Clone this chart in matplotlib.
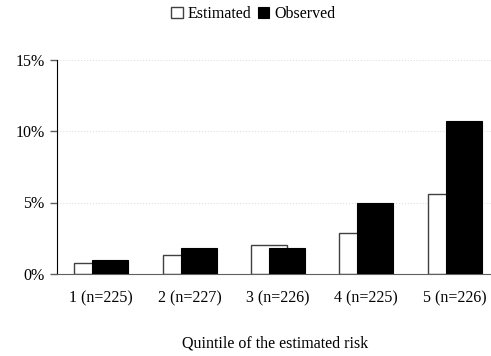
import matplotlib.pyplot as plt
import numpy as np
from matplotlib.ticker import FuncFormatter

categories = ['1 (n=225)', '2 (n=227)', '3 (n=226)', '4 (n=225)', '5 (n=226)']
estimated = [0.78, 1.34, 2.0, 2.9, 5.6]
observed = [0.95, 1.85, 1.85, 4.95, 10.7]

plt.rcParams['font.family'] = ['Liberation Serif', 'DejaVu Serif']
plt.rcParams['font.size'] = 11.5

fig = plt.figure(figsize=(4.91, 3.56), dpi=100)
ax = fig.add_axes([57 / 491, 82 / 356, 434 / 491, 214.5 / 356])

x = np.arange(len(categories))
w = 0.407
off = 0.102

ax.bar(x - off, estimated, w, color='white', edgecolor='#404040', linewidth=1.0,
       label='Estimated', zorder=2)
ax.bar(x + off, observed, w, color='black', edgecolor='black', linewidth=0.8,
       label='Observed', zorder=3)

ax.set_xlim(-0.5, 4.41)
ax.set_ylim(0, 15)
ax.set_yticks([0, 5, 10, 15])
ax.yaxis.set_major_formatter(FuncFormatter(lambda v, p: '%d%%' % v))
ax.set_xticks(x)
ax.set_xticklabels(categories)
ax.tick_params(axis='x', length=0, pad=12)
ax.tick_params(axis='y', length=5, width=1, color='#606060', pad=4)
ax.yaxis.grid(True, linestyle=':', color='#e0e0e0', linewidth=0.8, zorder=0)
ax.set_axisbelow(True)

for s in ['top', 'right']:
    ax.spines[s].set_visible(False)
ax.spines['left'].set_color('black')
ax.spines['bottom'].set_color('#606060')

fig.text(275 / 491, 1 - 343 / 356, 'Quintile of the estimated risk',
         ha='center', va='center')

fig.legend(loc='center', bbox_to_anchor=(253 / 491, 1 - 14 / 356), ncol=2,
           frameon=False, handlelength=0.75, handleheight=0.75,
           handletextpad=0.3, columnspacing=0.4, borderaxespad=0)

fig.savefig('out.png', dpi=100)
